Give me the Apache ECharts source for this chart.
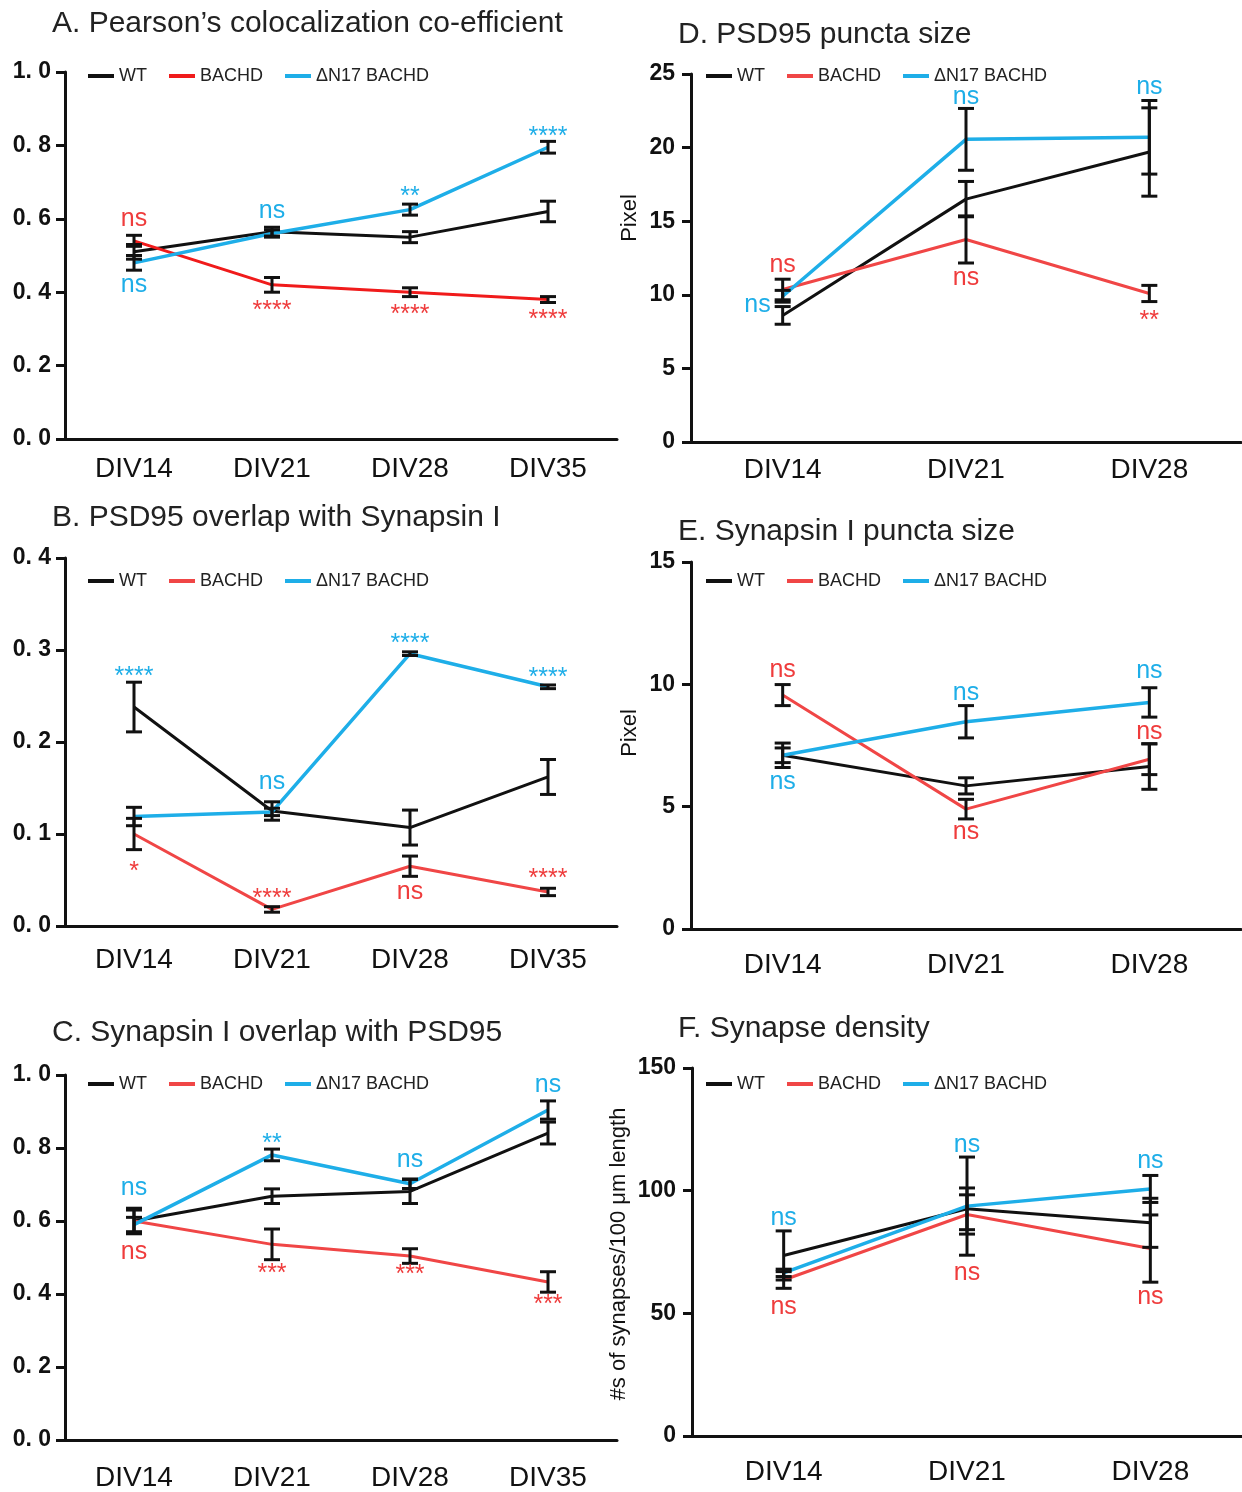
<!DOCTYPE html>
<html>
<head>
<meta charset="utf-8">
<title>Synapse panels</title>
<script src="https://cdn.jsdelivr.net/npm/echarts@6/dist/echarts.min.js"></script>
<style>
  html, body { margin: 0; padding: 0; background: #fff; }
  #chart { width: 1242px; height: 1492px; }
</style>
</head>
<body>
<div id="chart"></div>
<script>
// categories
var cats4 = ['DIV14', 'DIV21', 'DIV28', 'DIV35'];
var cats3 = ['DIV14', 'DIV21', 'DIV28'];

// A. Pearson's colocalization co-efficient
var aWT = [0.51, 0.565, 0.55, 0.62];
var aWTErr = [0.02, 0.012, 0.015, 0.028];
var aBA = [0.54, 0.42, 0.40, 0.38];
var aBAErr = [0.015, 0.02, 0.012, 0.008];
var aDN = [0.48, 0.56, 0.625, 0.795];
var aDNErr = [0.02, 0.01, 0.015, 0.016];
var aNotes = [['DIV14', 0.60, 'ns', 'BACHD'], ['DIV14', 0.42, 'ns', 'DN'], ['DIV21', 0.62, 'ns', 'DN'],
  ['DIV28', 0.675, '**', 'DN'], ['DIV35', 0.84, '****', 'DN'], ['DIV21', 0.365, '****', 'BACHD'],
  ['DIV28', 0.355, '****', 'BACHD'], ['DIV35', 0.34, '****', 'BACHD']];

// B. PSD95 overlap with Synapsin I
var bWT = [0.238, 0.125, 0.107, 0.162];
var bWTErr = [0.027, 0.01, 0.019, 0.019];
var bBA = [0.100, 0.018, 0.065, 0.037];
var bBAErr = [0.017, 0.003, 0.011, 0.004];
var bDN = [0.119, 0.124, 0.296, 0.260];
var bDNErr = [0.01, 0.004, 0.002, 0.002];
var bNotes = [['DIV14', 0.277, '****', 'DN'], ['DIV21', 0.156, 'ns', 'DN'], ['DIV28', 0.313, '****', 'DN'],
  ['DIV35', 0.276, '****', 'DN'], ['DIV14', 0.065, '*', 'BACHD'], ['DIV21', 0.036, '****', 'BACHD'],
  ['DIV28', 0.037, 'ns', 'BACHD'], ['DIV35', 0.058, '****', 'BACHD']];

// C. Synapsin I overlap with PSD95
var cWT = [0.60, 0.668, 0.681, 0.841];
var cWTErr = [0.035, 0.02, 0.033, 0.03];
var cBA = [0.60, 0.536, 0.504, 0.433];
var cBAErr = [0.03, 0.042, 0.02, 0.028];
var cDN = [0.59, 0.781, 0.702, 0.904];
var cDNErr = [0.02, 0.016, 0.013, 0.025];
var cNotes = [['DIV14', 0.69, 'ns', 'DN'], ['DIV14', 0.515, 'ns', 'BACHD'], ['DIV21', 0.827, '**', 'DN'],
  ['DIV21', 0.472, '***', 'BACHD'], ['DIV28', 0.768, 'ns', 'DN'], ['DIV28', 0.467, '***', 'BACHD'],
  ['DIV35', 0.973, 'ns', 'DN'], ['DIV35', 0.387, '***', 'BACHD']];

// D. PSD95 puncta size
var dWT = [8.6, 16.5, 19.7];
var dWTErr = [0.6, 1.2, 3.0];
var dBA = [10.36, 13.76, 10.09];
var dBAErr = [0.7, 1.6, 0.55];
var dDN = [9.9, 20.56, 20.7];
var dDNErr = [0.4, 2.1, 2.5];
var dNotes = [['DIV14', 12.0, 'ns', 'BACHD'], ['DIV14', 9.3, 'ns', 'DN', 'left'], ['DIV21', 23.46, 'ns', 'DN'],
  ['DIV21', 11.15, 'ns', 'BACHD'], ['DIV28', 24.1, 'ns', 'DN'], ['DIV28', 8.6, '**', 'BACHD']];

// E. Synapsin I puncta size
var eWT = [7.1, 5.85, 6.64];
var eWTErr = [0.5, 0.33, 0.93];
var eBA = [9.56, 4.9, 6.94];
var eBAErr = [0.43, 0.4, 0.63];
var eDN = [7.1, 8.47, 9.26];
var eDNErr = [0.3, 0.66, 0.6];
var eNotes = [['DIV14', 10.58, 'ns', 'BACHD'], ['DIV14', 6.0, 'ns', 'DN'], ['DIV21', 9.65, 'ns', 'DN'],
  ['DIV21', 3.98, 'ns', 'BACHD'], ['DIV28', 10.55, 'ns', 'DN'], ['DIV28', 8.06, 'ns', 'BACHD']];

// F. Synapse density
var fWT = [73.6, 92.6, 86.9];
var fWTErr = [10, 8.5, 10];
var fBA = [63.6, 90.3, 76.4];
var fBAErr = [3.4, 8, 13.7];
var fDN = [66.5, 93.7, 100.7];
var fDNErr = [1.5, 20, 5.5];
var fNotes = [['DIV14', 88.9, 'ns', 'DN'], ['DIV14', 52.7, 'ns', 'BACHD'], ['DIV21', 118.4, 'ns', 'DN'],
  ['DIV21', 66.2, 'ns', 'BACHD'], ['DIV28', 112, 'ns', 'DN'], ['DIV28', 56.7, 'ns', 'BACHD']];

var FONT = '"Liberation Sans", Arial, Helvetica, sans-serif';
var BLACK = '#111111';
var BLUE = '#1eaee8';
var RED_NOTE = '#ef3c3c';

var panels = [
  { title: 'A. Pearson\u2019s colocalization co-efficient', tx: 52, ty: 9, cats: cats4,
    grid: { left: 65, top: 72, width: 552, height: 367 }, max: 1, interval: 0.2, dec: true,
    red: '#f01b1b', legTop: 62, legLeft: 83, labMargin: 16, yMargin: 14,
    wt: aWT, wtE: aWTErr, ba: aBA, baE: aBAErr, dn: aDN, dnE: aDNErr, notes: aNotes },
  { title: 'B. PSD95 overlap with Synapsin I', tx: 52, ty: 503, cats: cats4,
    grid: { left: 65, top: 558, width: 552, height: 368 }, max: 0.4, interval: 0.1, dec: true,
    red: '#f04646', legTop: 567, legLeft: 83, labMargin: 20, yMargin: 14,
    wt: bWT, wtE: bWTErr, ba: bBA, baE: bBAErr, dn: bDN, dnE: bDNErr, notes: bNotes },
  { title: 'C. Synapsin I overlap with PSD95', tx: 52, ty: 1018, cats: cats4,
    grid: { left: 65, top: 1075, width: 552, height: 366 }, max: 1, interval: 0.2, dec: true,
    red: '#f04646', legTop: 1070, legLeft: 83, labMargin: 24, yMargin: 14,
    wt: cWT, wtE: cWTErr, ba: cBA, baE: cBAErr, dn: cDN, dnE: cDNErr, notes: cNotes },
  { title: 'D. PSD95 puncta size', tx: 678, ty: 20, cats: cats3,
    grid: { left: 691, top: 74, width: 550, height: 368 }, max: 25, interval: 5, dec: false,
    red: '#f04646', legTop: 62, legLeft: 701, labMargin: 14, yMargin: 16,
    wt: dWT, wtE: dWTErr, ba: dBA, baE: dBAErr, dn: dDN, dnE: dDNErr, notes: dNotes },
  { title: 'E. Synapsin I puncta size', tx: 678, ty: 517, cats: cats3,
    grid: { left: 691, top: 562, width: 550, height: 367 }, max: 15, interval: 5, dec: false,
    red: '#f04646', legTop: 567, legLeft: 701, labMargin: 22, yMargin: 16,
    wt: eWT, wtE: eWTErr, ba: eBA, baE: eBAErr, dn: eDN, dnE: eDNErr, notes: eNotes },
  { title: 'F. Synapse density', tx: 678, ty: 1014, cats: cats3,
    grid: { left: 692, top: 1068, width: 550, height: 368 }, max: 150, interval: 50, dec: false,
    red: '#f04646', legTop: 1070, legLeft: 701, labMargin: 22, yMargin: 16,
    wt: fWT, wtE: fWTErr, ba: fBA, baE: fBAErr, dn: fDN, dnE: fDNErr, notes: fNotes }
];

function errBar(params, api) {
  var x = api.value(0);
  var top = api.coord([x, api.value(2)]);
  var bot = api.coord([x, api.value(1)]);
  var hw = 8;
  var st = { stroke: BLACK, lineWidth: 3 };
  return { type: 'group', children: [
    { type: 'line', shape: { x1: top[0], y1: top[1], x2: bot[0], y2: bot[1] }, style: st },
    { type: 'line', shape: { x1: top[0] - hw, y1: top[1], x2: top[0] + hw, y2: top[1] }, style: st },
    { type: 'line', shape: { x1: bot[0] - hw, y1: bot[1], x2: bot[0] + hw, y2: bot[1] }, style: st }
  ]};
}

var option = {
  backgroundColor: '#fff',
  animation: false,
  title: [], legend: [], grid: [], xAxis: [], yAxis: [], series: [],
  graphic: [
    { type: 'text', x: 630, y: 218, rotation: Math.PI / 2,
      style: { text: 'Pixel', font: '22px ' + FONT, fill: BLACK, align: 'center', verticalAlign: 'middle' } },
    { type: 'text', x: 630, y: 733, rotation: Math.PI / 2,
      style: { text: 'Pixel', font: '22px ' + FONT, fill: BLACK, align: 'center', verticalAlign: 'middle' } },
    { type: 'text', x: 619, y: 1254, rotation: Math.PI / 2,
      style: { text: '#s of synapses/100 \u03bcm length', font: '22px ' + FONT, fill: BLACK, align: 'center', verticalAlign: 'middle' } }
  ]
};

panels.forEach(function (p, i) {
  option.title.push({ text: p.title, left: p.tx, top: p.ty, padding: 0,
    textStyle: { fontFamily: FONT, fontSize: 30, fontWeight: 'normal', color: '#222' } });
  option.legend.push({
    left: p.legLeft, top: p.legTop, itemWidth: 26, itemHeight: 4, itemGap: 22, icon: 'rect',
    textStyle: { fontFamily: FONT, fontSize: 18, color: '#222' },
    data: [
      { name: 'WT', itemStyle: { color: BLACK } },
      { name: 'BACHD', itemStyle: { color: p.red } },
      { name: '\u0394N17 BACHD', itemStyle: { color: BLUE } }
    ]
  });
  option.grid.push(p.grid);
  option.xAxis.push({
    type: 'category', gridIndex: i, data: p.cats,
    axisLine: { lineStyle: { color: BLACK, width: 3 } },
    axisTick: { alignWithLabel: true, length: 10, lineStyle: { color: BLACK, width: 3 } },
    axisLabel: { fontFamily: FONT, fontSize: 28, color: BLACK, margin: p.labMargin },
    splitLine: { show: false }
  });
  option.yAxis.push({
    type: 'value', gridIndex: i, min: 0, max: p.max, interval: p.interval,
    axisLine: { show: true, lineStyle: { color: BLACK, width: 3 } },
    axisTick: { show: true, length: 9, lineStyle: { color: BLACK, width: 3 } },
    axisLabel: { fontFamily: FONT, fontSize: 23, fontWeight: 'bold', color: BLACK, margin: p.yMargin,
      formatter: function (v) { return p.dec ? v.toFixed(1).replace('.', '. ') : String(v); } },
    splitLine: { show: false }
  });

  var groups = [
    { name: 'WT', vals: p.wt, err: p.wtE, color: BLACK, w: 3 },
    { name: 'BACHD', vals: p.ba, err: p.baE, color: p.red, w: 3 },
    { name: '\u0394N17 BACHD', vals: p.dn, err: p.dnE, color: BLUE, w: 3.5 }
  ];
  var errData = [];
  groups.forEach(function (g) {
    option.series.push({
      type: 'line', name: g.name, xAxisIndex: i, yAxisIndex: i, data: g.vals,
      symbol: 'none', lineStyle: { color: g.color, width: g.w }, itemStyle: { color: g.color }, z: 2
    });
    g.vals.forEach(function (v, k) { errData.push([k, v - g.err[k], v + g.err[k]]); });
  });
  option.series.push({
    type: 'custom', name: 'err' + i, xAxisIndex: i, yAxisIndex: i, data: errData,
    renderItem: errBar, z: 3, silent: true
  });

  var notes = p.notes;
  option.series.push({
    type: 'custom', name: 'sig' + i, xAxisIndex: i, yAxisIndex: i, silent: true, z: 4,
    data: notes.map(function (n) { return [p.cats.indexOf(n[0]), n[1]]; }),
    renderItem: function (params, api) {
      var n = notes[params.dataIndex];
      var pt = api.coord([api.value(0), api.value(1)]);
      var star = n[2].charAt(0) === '*';
      var left = n[4] === 'left';
      return { type: 'text', x: left ? pt[0] - 12 : pt[0], y: pt[1] + (star ? 6 : 0),
        style: { text: n[2], font: (star ? '25px ' : '25px ') + FONT,
          fill: n[3] === 'DN' ? BLUE : RED_NOTE,
          align: left ? 'right' : 'center', verticalAlign: 'middle' } };
    }
  });
});

var chart = echarts.init(document.getElementById('chart'), null, { renderer: 'canvas' });
chart.setOption(option);
</script>
</body>
</html>
